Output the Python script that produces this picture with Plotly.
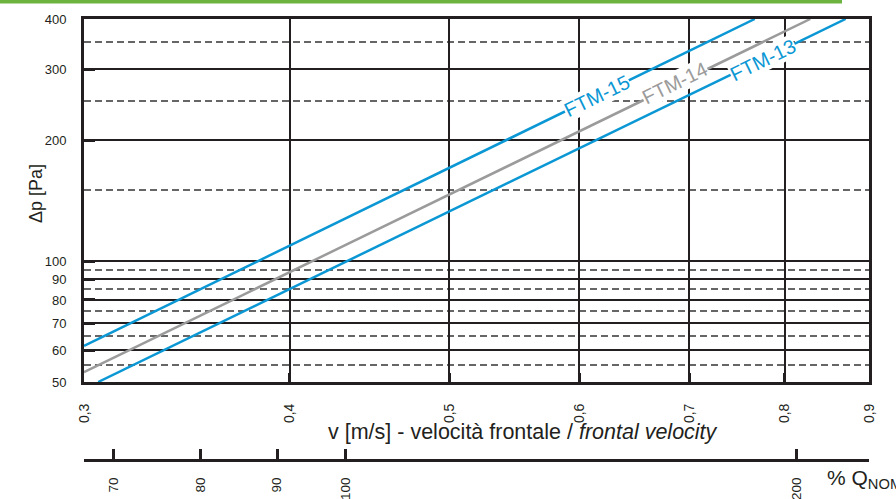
import numpy as np
import plotly.graph_objects as go

# ---------------- data ----------------
v_ticks = [0.3, 0.4, 0.5, 0.6, 0.7, 0.8, 0.9]
v_ticktext = ["0,3", "0,4", "0,5", "0,6", "0,7", "0,8", "0,9"]
dp_major = [50, 60, 70, 80, 90, 100, 200, 300, 400]
dp_minor = [55, 65, 75, 85, 95, 150, 250, 350]
q_ticks = [70, 80, 90, 100, 200]
q_range = [66.9, 223.5]

ftm15_v = [0.300, 0.767]
ftm15_dp = [61.5, 400.0]
ftm14_v = [0.300, 0.829]
ftm14_dp = [52.9, 400.0]
ftm13_v = [0.306, 0.871]
ftm13_dp = [50.0, 400.0]

# ---------------- styles ----------------
FONT = "Liberation Sans, Arial, Helvetica, sans-serif"
DARK = "#231f20"
BLUE = "#0a97d4"
GREY = "#9b9b9b"

fig = go.Figure()
fig.add_trace(go.Scatter(x=ftm15_v, y=ftm15_dp, mode="lines",
                         line=dict(color=BLUE, width=2.5), name="FTM-15"))
fig.add_trace(go.Scatter(x=ftm14_v, y=ftm14_dp, mode="lines",
                         line=dict(color=GREY, width=2.5), name="FTM-14"))
fig.add_trace(go.Scatter(x=ftm13_v, y=ftm13_dp, mode="lines",
                         line=dict(color=BLUE, width=2.5), name="FTM-13"))
# carrier for the secondary % Q_NOM axis (no visible marks)
fig.add_trace(go.Scatter(x=q_ticks, y=[None] * len(q_ticks), xaxis="x2",
                         mode="lines", showlegend=False, hoverinfo="skip"))

W, H = 896, 499
ml, mr, mt, mb = 84, 27, 19, 39
plot_bottom_px = 382
paper_h = H - mt - mb
ydom0 = (H - mb - plot_bottom_px) / paper_h

fig.update_layout(
    width=W, height=H,
    margin=dict(l=ml, r=mr, t=mt, b=mb, autoexpand=False),
    paper_bgcolor="white", plot_bgcolor="white",
    showlegend=False,
    font=dict(family=FONT, color=DARK),
    xaxis=dict(
        type="log", range=[np.log10(0.3), np.log10(0.9)],
        tickvals=v_ticks, ticktext=v_ticktext, tickangle=-90,
        tickfont=dict(size=14, color=DARK),
        ticks="inside", ticklen=9, tickwidth=3, tickcolor=DARK,
        ticklabelstandoff=13,
        showgrid=True, gridcolor=DARK, gridwidth=1.6,
        showline=True, linecolor=DARK, linewidth=3, mirror=True,
        zeroline=False, anchor="y", automargin=False,
    ),
    xaxis2=dict(
        type="log", range=[np.log10(q_range[0]), np.log10(q_range[1])],
        overlaying="x", anchor="free", position=0, side="bottom",
        tickvals=q_ticks, ticktext=[str(q) for q in q_ticks], tickangle=-90,
        tickfont=dict(size=13.5, color=DARK),
        ticks="inside", ticklen=10, tickwidth=3, tickcolor=DARK,
        ticklabelstandoff=10,
        showgrid=False, showline=True, linecolor=DARK, linewidth=3,
        zeroline=False, automargin=False,
    ),
    yaxis=dict(
        type="log", range=[np.log10(50), np.log10(400)],
        domain=[ydom0, 1],
        tickvals=dp_major, ticktext=[str(d) for d in dp_major],
        tickfont=dict(size=13, color=DARK),
        ticks="inside", ticklen=11, tickwidth=3, tickcolor=DARK,
        ticklabelstandoff=12,
        showgrid=True, gridcolor=DARK, gridwidth=1.6,
        minor=dict(tickvals=dp_minor, showgrid=True, gridcolor="#666666",
                   gridwidth=1.5, griddash="7px,4px", ticks=""),
        showline=True, linecolor=DARK, linewidth=3, mirror=True,
        zeroline=False, automargin=False,
    ),
)

def px_x(px):
    return (px - ml) / (W - ml - mr)

def px_y(py):
    return (H - mb - py) / paper_h

# green top bar
fig.add_shape(type="rect", xref="paper", yref="paper",
              x0=px_x(0), x1=px_x(842), y0=px_y(3.5), y1=px_y(0),
              line=dict(width=0), fillcolor="#6db33f", layer="above")

# curve labels
labels = [("FTM-15", 0.615, 257, BLUE), ("FTM-14", 0.686, 276.6, GREY),
          ("FTM-13", 0.776, 316, BLUE)]
for txt, xv, yv, col in labels:
    fig.add_annotation(x=np.log10(xv), y=np.log10(yv), xref="x", yref="y",
                       text=txt, showarrow=False, textangle=-26,
                       font=dict(size=20, color=col, family=FONT),
                       bgcolor="white", borderpad=0)

# axis titles
fig.add_annotation(x=px_x(24), y=px_y(194), xref="paper", yref="paper",
                   text="Δp [Pa]", textangle=-90, showarrow=False,
                   font=dict(size=18, color=DARK))
fig.add_annotation(x=px_x(522.5), y=px_y(446), xref="paper", yref="paper",
                   text="v [m/s] - velocità frontale / <i>frontal velocity</i>",
                   showarrow=False, font=dict(size=21.5, color=DARK))
fig.add_annotation(x=px_x(825), y=px_y(479), xref="paper", yref="paper",
                   xanchor="left", yanchor="middle",
                   text="% Q<sub>NOM</sub>", showarrow=False,
                   font=dict(size=21, color=DARK))

fig.write_html("out.html", config={"displayModeBar": False},
               post_script="document.body.style.margin='0';")
